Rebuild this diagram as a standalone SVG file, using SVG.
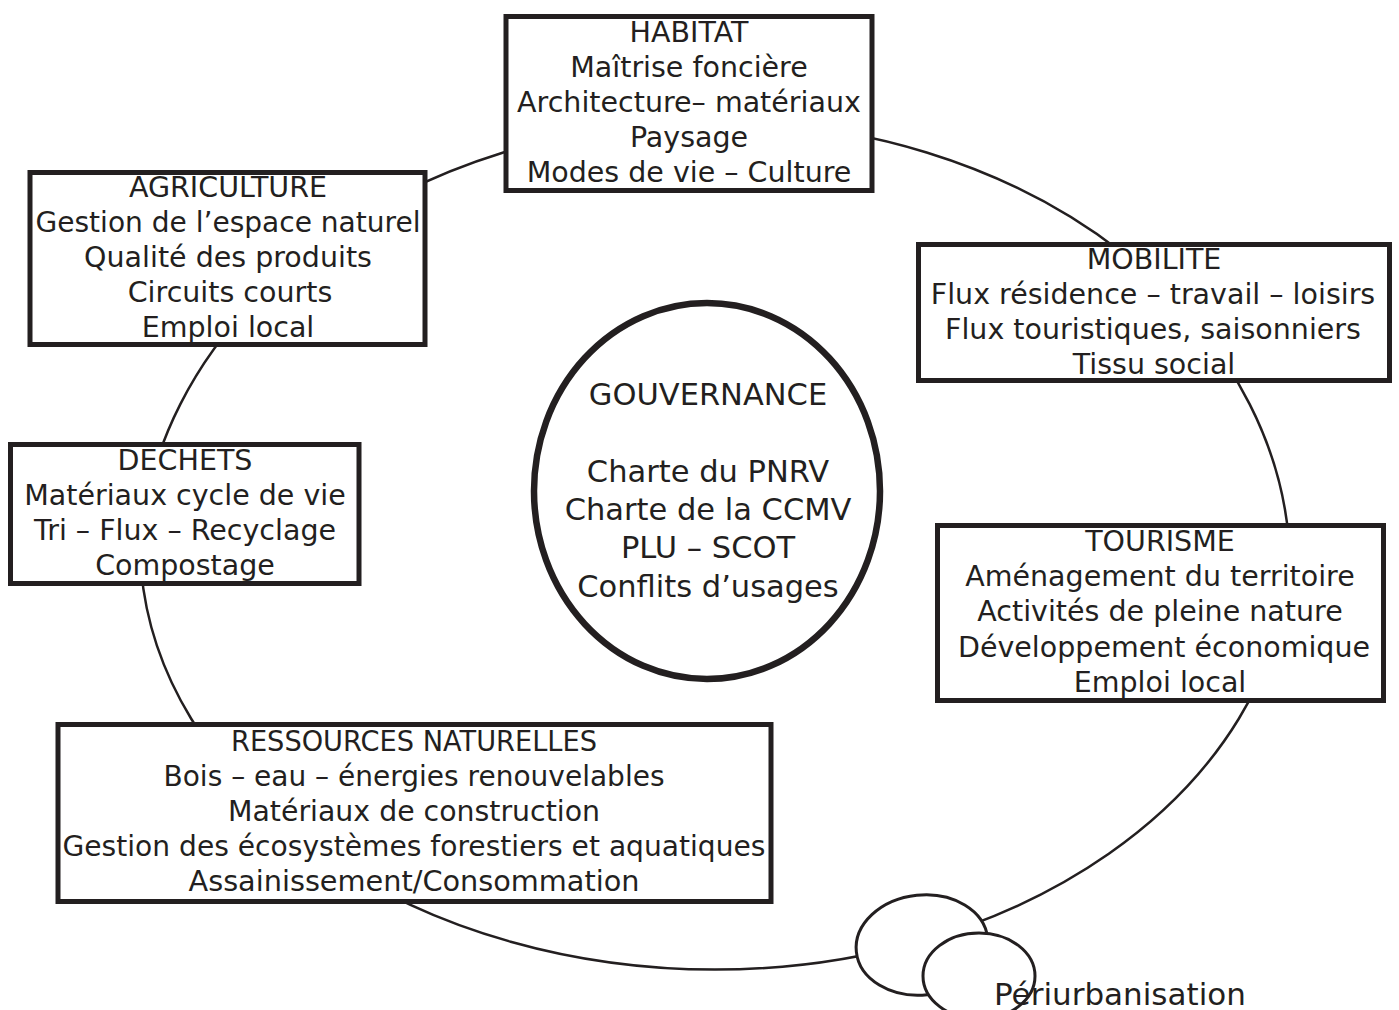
<svg xmlns="http://www.w3.org/2000/svg" width="1399" height="1010" viewBox="0 0 1399 1010">
<style>
.box{fill:#fff;stroke:#231f20;stroke-width:5}
.conn{fill:none;stroke:#231f20;stroke-width:2.5}
.oval{fill:#fff;stroke:#231f20;stroke-width:3}
text{font-family:"DejaVu Sans",Verdana,sans-serif;font-size:28.5px;fill:#231f20;text-anchor:middle}
.g{font-size:30.5px}
</style>
<rect width="1399" height="1010" fill="#fff"/>
<g id="connectors">
<path class="conn" d="M140 569 A575 448 0 0 1 1290 569 L1288.9 569 A575 427 0 0 1 141.1 569 Z"/>
</g>
<g id="periurbanisation">
<ellipse class="oval" cx="922" cy="945" rx="66" ry="50" transform="rotate(-6 922 945)"/>
<ellipse class="oval" cx="979" cy="976" rx="56" ry="43"/>
<text x="994" y="1005" style="text-anchor:start;font-size:31px">Périurbanisation</text>
</g>
<g id="habitat">
<rect class="box" x="506" y="16.5" width="366" height="174"/>
<text x="689" y="42">HABITAT</text>
<text x="689" y="77">Maîtrise foncière</text>
<text x="689" y="112">Architecture– matériaux</text>
<text x="689" y="147">Paysage</text>
<text x="689" y="182">Modes de vie – Culture</text>
</g>
<g id="agriculture">
<rect class="box" x="30" y="172.5" width="395" height="172"/>
<text x="228" y="197">AGRICULTURE</text>
<text x="228" y="232" textLength="385" lengthAdjust="spacingAndGlyphs">Gestion de l’espace naturel</text>
<text x="228" y="267">Qualité des produits</text>
<text x="230" y="302">Circuits courts</text>
<text x="228" y="337">Emploi local</text>
</g>
<g id="dechets">
<rect class="box" x="10.5" y="444.5" width="348.5" height="139"/>
<text x="185" y="470">DECHETS</text>
<text x="185" y="505">Matériaux cycle de vie</text>
<text x="185" y="540">Tri – Flux – Recyclage</text>
<text x="185" y="575">Compostage</text>
</g>
<g id="mobilite">
<rect class="box" x="918.5" y="244.5" width="471" height="136"/>
<text x="1154" y="269">MOBILITE</text>
<text x="1153" y="304">Flux résidence – travail – loisirs</text>
<text x="1153" y="339">Flux touristiques, saisonniers</text>
<text x="1154" y="374">Tissu social</text>
</g>
<g id="tourisme">
<rect class="box" x="937.5" y="525.5" width="446" height="175"/>
<text x="1160" y="551">TOURISME</text>
<text x="1160" y="586">Aménagement du territoire</text>
<text x="1160" y="621">Activités de pleine nature</text>
<text x="1164" y="657">Développement économique</text>
<text x="1160" y="692">Emploi local</text>
</g>
<g id="ressources">
<rect class="box" x="58" y="724.5" width="713" height="177"/>
<text x="414" y="751" textLength="366" lengthAdjust="spacingAndGlyphs">RESSOURCES NATURELLES</text>
<text x="414" y="786" textLength="501" lengthAdjust="spacingAndGlyphs">Bois – eau – énergies renouvelables</text>
<text x="414" y="821" textLength="372" lengthAdjust="spacingAndGlyphs">Matériaux de construction</text>
<text x="414" y="856" textLength="703" lengthAdjust="spacingAndGlyphs">Gestion des écosystèmes forestiers et aquatiques</text>
<text x="414" y="891" textLength="451" lengthAdjust="spacingAndGlyphs">Assainissement/Consommation</text>
</g>
<g id="gouvernance">
<ellipse cx="707" cy="491" rx="173" ry="188" fill="#fff" stroke="#231f20" stroke-width="6.5"/>
<text class="g" x="708" y="405">GOUVERNANCE</text>
<text class="g" x="708" y="482">Charte du PNRV</text>
<text class="g" x="708" y="520">Charte de la CCMV</text>
<text class="g" x="708" y="558">PLU – SCOT</text>
<text class="g" x="708" y="597">Conflits d’usages</text>
</g>
</svg>
